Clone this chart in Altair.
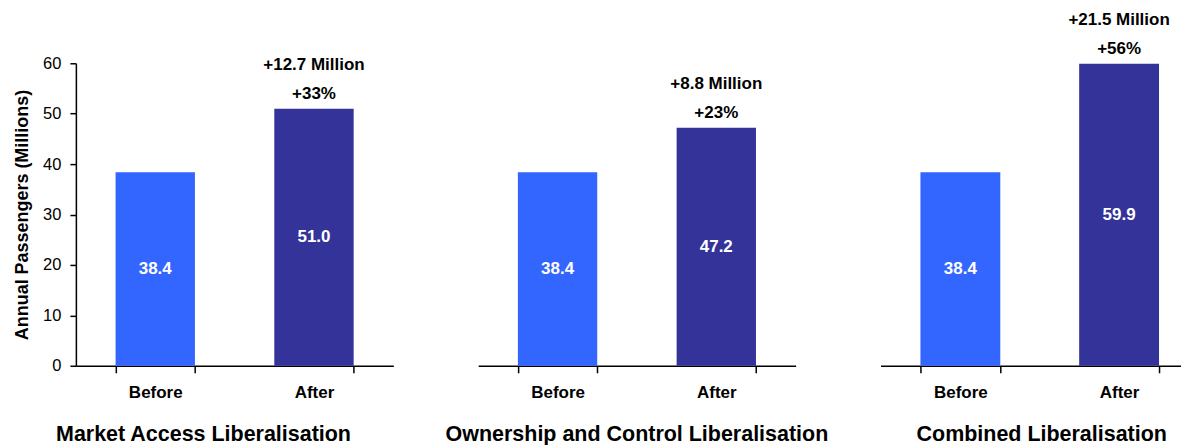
import altair as alt
import pandas as pd

panels = ["Market Access Liberalisation",
          "Ownership and Control Liberalisation",
          "Combined Liberalisation"]
phases = ["Before", "After"]
before = [38.4, 38.4, 38.4]
after = [51.0, 47.2, 59.9]
change_million = ["+12.7 Million", "+8.8 Million", "+21.5 Million"]
change_pct = ["+33%", "+23%", "+56%"]
y_ticks = [0, 10, 20, 30, 40, 50, 60]
colors = ["#3366FF", "#333399"]

FONT = "Liberation Sans"


def panel(i, width, xscale, tick_extra, title_dx):
    df = pd.DataFrame({
        "phase": phases,
        "value": [before[i], after[i]],
        "label": [f"{before[i]:.1f}", f"{after[i]:.1f}"],
        "million": ["", change_million[i]],
        "pct": ["", change_pct[i]],
    })
    if i == 0:
        yaxis = alt.Axis(values=y_ticks, title="Annual Passengers (Millions)",
                         titleFontSize=18, titleFontWeight="bold", titleFont=FONT,
                         titleColor="black", titlePadding=11,
                         labelFontSize=16.5, labelFont=FONT, labelColor="black",
                         labelPadding=9, tickSize=6, tickColor="black",
                         tickWidth=1.5, domainColor="black", domainWidth=1.5,
                         grid=False)
    else:
        yaxis = None
    yscale = alt.Scale(domain=[0, 60])
    xaxis = alt.Axis(title=None, labelAngle=0, tickBand="extent",
                     tickExtra=tick_extra,
                     labelFontSize=17, labelFont=FONT,
                     labelFontWeight="bold", labelColor="black",
                     labelPadding=12, tickSize=7, tickColor="black",
                     tickWidth=1.5, domainColor="black", domainWidth=1.5)
    xenc = alt.X("phase:N", sort=phases, scale=xscale, axis=xaxis)
    base = alt.Chart(df).encode(x=xenc)
    bars = base.mark_bar().encode(
        y=alt.Y("value:Q", scale=yscale, axis=yaxis),
        color=alt.Color("phase:N", scale=alt.Scale(domain=phases, range=colors),
                        legend=None),
    )
    inner = base.transform_calculate(mid="datum.value / 2").mark_text(
        color="white", fontWeight="bold", fontSize=17, font=FONT,
        baseline="middle").encode(
        y=alt.Y("mid:Q", scale=yscale, axis=yaxis),
        text="label:N",
    )
    pct = base.transform_filter("datum.pct != ''").mark_text(
        color="black", fontWeight="bold", fontSize=17, font=FONT,
        baseline="middle", dy=-15).encode(
        y=alt.Y("value:Q", scale=yscale, axis=yaxis),
        text="pct:N",
    )
    mil = base.transform_filter("datum.million != ''").mark_text(
        color="black", fontWeight="bold", fontSize=17, font=FONT,
        baseline="middle", dy=-44).encode(
        y=alt.Y("value:Q", scale=yscale, axis=yaxis),
        text="million:N",
    )
    return alt.layer(bars, inner, pct, mil).properties(
        width=width, height=303,
        title=alt.TitleParams(text=panels[i], orient="bottom", fontSize=21.5,
                              fontWeight="bold", font=FONT, color="black",
                              anchor="middle", frame="bounds", offset=23,
                              dx=title_dx),
    )


sym = alt.Scale(paddingInner=0.5, paddingOuter=0.25)
# last panel runs past the right edge of the page in the original: narrower
# range, same step and band width, bands kept at the same spots
last = alt.Scale(paddingInner=0.4969, paddingOuter=0.195, align=0.645)

chart = alt.hconcat(
    panel(0, 318, sym, True, 0),
    panel(1, 318, sym, True, 0),
    panel(2, 301, last, False, 11),
    spacing=85, bounds="flush",
).properties(
    padding={"left": 5, "top": 2, "right": 0, "bottom": 0},
    background="white",
).configure_view(stroke="transparent", strokeWidth=0)

chart.save("out.html", embed_options={"renderer": "svg", "actions": False})
